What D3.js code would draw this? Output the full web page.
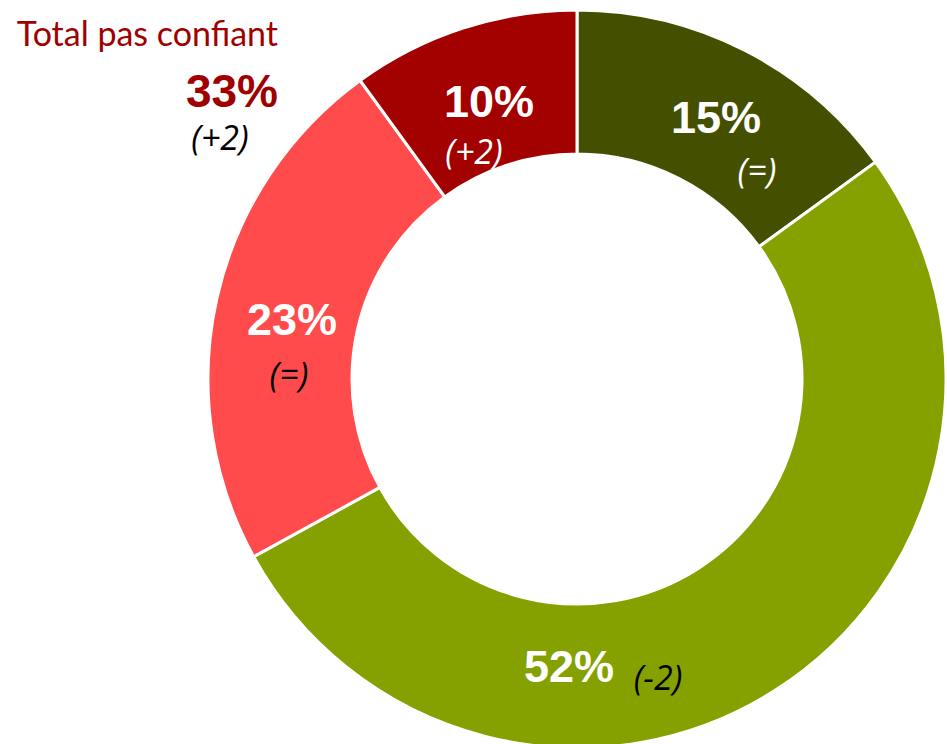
<!DOCTYPE html>
<html>
<head>
<meta charset="utf-8">
<script src="https://cdn.jsdelivr.net/npm/d3@7"></script>
<style>
  body { margin: 0; background: #fff; }
  svg { display: block; }
  .pct { font-family: "Liberation Sans", Arial, sans-serif; font-weight: bold; font-size: 45px; fill: #fff; }
  .chg { font-family: "Open Sans", "Noto Sans", sans-serif; font-style: italic; font-size: 34px; }
</style>
</head>
<body>
<div class="container"></div>
<script>
var categories = ["Très confiant", "Plutôt confiant", "Plutôt pas confiant", "Pas du tout confiant"];
var values = [15, 52, 23, 10];
var changes = ["(=)", "(-2)", "(=)", "(+2)"];
var colors = ["#445000", "#85a100", "#ff4b4b", "#a30000"];
var totalLabel = "Total pas confiant";
var totalValue = 33;
var totalChange = "(+2)";

// label placement relative to the donut centre (pct label, change label)
var labelLayout = [
  {px: 139, py: -246, cx: 180, cy: -196, chgColor: "#fff"},
  {px: -8, py: 303, cx: 81, cy: 311, chgColor: "#000"},
  {px: -285, py: -44, cx: -288, cy: 8, chgColor: "#000"},
  {px: -88, py: -262, cx: -103, cy: -215, chgColor: "#fff"}
];

var width = 947, height = 744;
var cx = 577, cy = 379, outerR = 369, innerR = 225;

var svg = d3.select(".container")
  .append("svg")
    .attr("width", width)
    .attr("height", height);

var g = svg.append("g")
  .attr("transform", "translate(" + cx + "," + cy + ")");

var pie = d3.pie().sort(null).value(function(d) { return d; });
var arc = d3.arc().innerRadius(innerR).outerRadius(outerR);

g.selectAll("path")
  .data(pie(values))
  .enter()
  .append("path")
    .attr("d", arc)
    .attr("fill", function(d, i) { return colors[i]; })
    .attr("stroke", "#fff")
    .attr("stroke-width", 3);

g.selectAll("text.pct")
  .data(values)
  .enter()
  .append("text")
    .attr("class", "pct")
    .attr("text-anchor", "middle")
    .attr("x", function(d, i) { return labelLayout[i].px; })
    .attr("y", function(d, i) { return labelLayout[i].py; })
    .text(function(d) { return d + "%"; });

g.selectAll("text.chg")
  .data(changes)
  .enter()
  .append("text")
    .attr("class", "chg")
    .attr("text-anchor", "middle")
    .attr("x", function(d, i) { return labelLayout[i].cx; })
    .attr("y", function(d, i) { return labelLayout[i].cy; })
    .attr("fill", function(d, i) { return labelLayout[i].chgColor; })
    .text(function(d) { return d; });

// total block top left
svg.append("text")
  .attr("x", 278)
  .attr("y", 46)
  .attr("text-anchor", "end")
  .style("font-family", "Lato, 'Open Sans', sans-serif")
  .style("font-size", "34px")
  .attr("fill", "#a00000")
  .text(totalLabel);

svg.append("text")
  .attr("x", 278)
  .attr("y", 107)
  .attr("text-anchor", "end")
  .style("font-family", "'Liberation Sans', Arial, sans-serif")
  .style("font-weight", "bold")
  .style("font-size", "46px")
  .attr("fill", "#a00000")
  .text(totalValue + "%");

svg.append("text")
  .attr("class", "chg")
  .attr("x", 220)
  .attr("y", 150)
  .attr("text-anchor", "middle")
  .attr("fill", "#000")
  .text(totalChange);
</script>
</body>
</html>
